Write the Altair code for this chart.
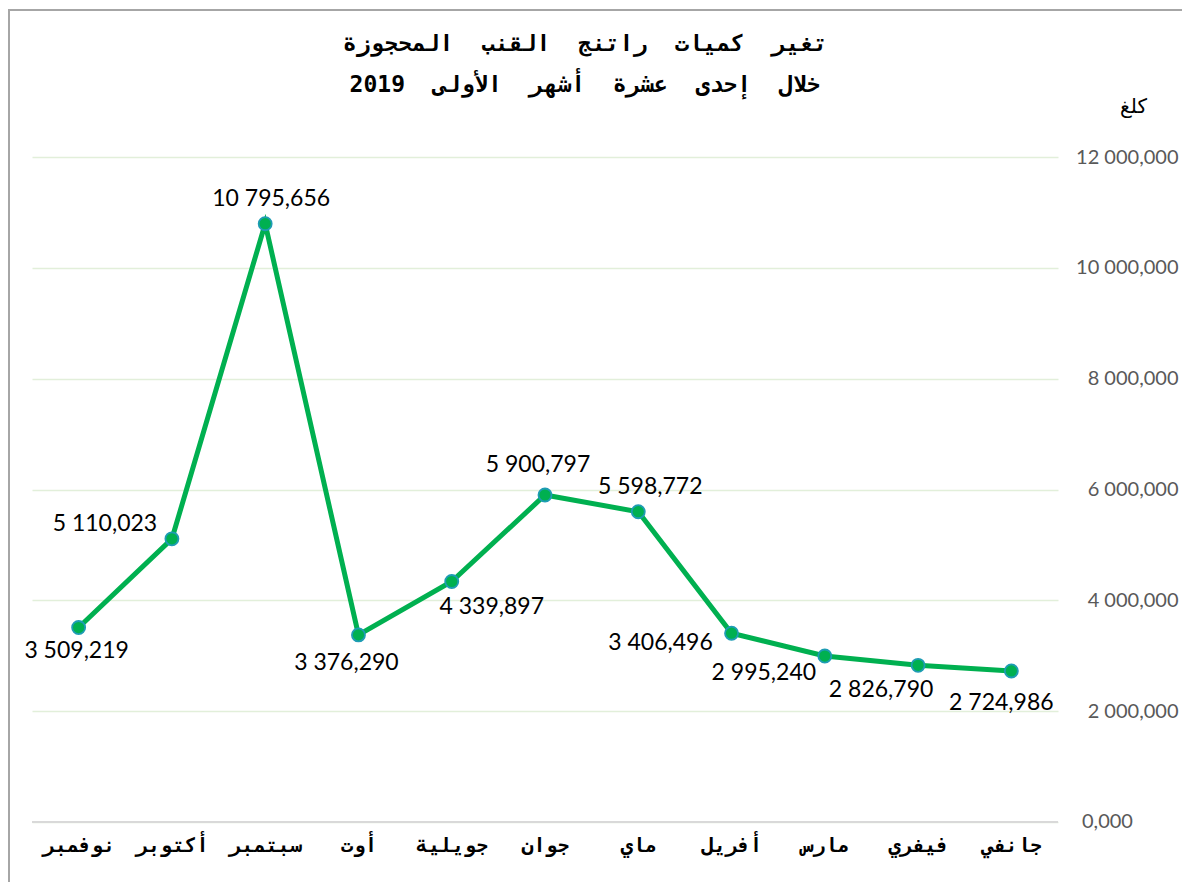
import altair as alt
import pandas as pd

months = ["جانفي", "فيفري", "مارس", "أفريل", "ماي", "جوان", "جويلية", "أوت", "سبتمبر", "أكتوبر", "نوفمبر"]
values = [2724986, 2826790, 2995240, 3406496, 5598772, 5900797, 4339897, 3376290, 10795656, 5110023, 3509219]
title_lines = ["تغير كميات راتنج القنب المحجوزة", "خلال إحدى عشرة أشهر الأولى 2019"]
unit_label = "كلغ"
zero_label = "0,000"

# label offsets (styling only, pixels)
label_dx = [-10, -37, -61, -71, 12, -7, 40, -12, 6, -67, -2]
label_dy = [32, 25, 17, 10, -25, -30, 26, 28, -25, -15, 23]


def fmt(v):
    s = f"{v:,}"
    return s.replace(",", " ", 1)


def spaced(s):
    return s.replace(" ", "\u00a0\u00a0")


df = pd.DataFrame({
    "month": months,
    "value": values,
    "label": [fmt(v) for v in values],
})

W, H = 1026, 665

xenc = alt.X("month:N", sort=months, scale=alt.Scale(reverse=True, paddingOuter=0.5, paddingInner=1),
             axis=alt.Axis(title=None, labelFont="DejaVu Sans Mono", labelFontSize=20, labelFontWeight="bold",
                           labelColor="#000000", labelAngle=0, ticks=False, domain=False, grid=False,
                           labelPadding=13))
yenc = alt.Y("value:Q", scale=alt.Scale(domain=[0, 12000000]),
             axis=alt.Axis(orient="right", values=[0, 2000000, 4000000, 6000000, 8000000, 10000000, 12000000],
                           labelExpr="datum.value == 0 ? '' : replace(format(datum.value, ',d'), ',', ' ')",
                           labelFont="Lato", labelFontSize=20, labelColor="#595959", labelAlign="right",
                           labelPadding=120, ticks=False, domain=False, grid=True, gridColor="#E2EFDA",
                           gridWidth=1.3, title=unit_label, titleAngle=0, titleFont="DejaVu Sans",
                           titleFontSize=20, titleFontWeight="normal", titleColor="#000000",
                           titleX=75, titleY=-41, titleAlign="center"))

base = alt.Chart(df)

baseline = base.mark_rule(color="#D9D9D9", strokeWidth=1.5).encode(
    y=alt.datum(0), x=alt.value(0), x2=alt.value(W))

zero_text = alt.Chart(pd.DataFrame({"t": [zero_label]})).mark_text(
    font="Lato", fontSize=20, color="#595959", align="left").encode(
    text="t:N", y=alt.datum(0), x=alt.value(1050))

line = base.mark_line(color="#00B050", strokeWidth=5).encode(x=xenc, y=yenc)
points = base.mark_point(filled=True, size=170, fill="#00B050", stroke="#1E9CB4", strokeWidth=1.8, opacity=1).encode(
    x=xenc, y=yenc)

label_layers = []
for m, dx, dy in zip(months, label_dx, label_dy):
    label_layers.append(
        base.transform_filter(alt.datum.month == m).mark_text(
            font="Lato", fontSize=23, color="#000000", dx=dx, dy=dy).encode(
            x=xenc, y=yenc, text="label:N"))

t1 = alt.Chart(pd.DataFrame({"t": [spaced(title_lines[0])]})).mark_text(
    font="DejaVu Sans Mono", fontSize=23, fontWeight="bold", color="#000000").encode(
    text="t:N", x=alt.value(553), y=alt.value(-113))
t2 = alt.Chart(pd.DataFrame({"t": [spaced(title_lines[1])]})).mark_text(
    font="DejaVu Sans Mono", fontSize=23, fontWeight="bold", color="#000000").encode(
    text="t:N", x=alt.value(553), y=alt.value(-72))

border_top = base.mark_rule(color="#A6A6A6", strokeWidth=2).encode(
    x=alt.value(-24), x2=alt.value(1170), y=alt.value(-147))
border_left = base.mark_rule(color="#A6A6A6", strokeWidth=2).encode(
    x=alt.value(-23), y=alt.value(-148), y2=alt.value(730))

chart = alt.layer(border_top, border_left, line, baseline, zero_text, points, *label_layers, t1, t2).properties(
    width=W, height=H,
    autosize=alt.AutoSizeParams(type="none"),
    padding={"left": 24, "top": 149, "right": 124, "bottom": 60},
).configure(background="#FFFFFF").configure_view(stroke=None)

chart.save("out.html", embed_options={"renderer": "svg", "actions": False})
